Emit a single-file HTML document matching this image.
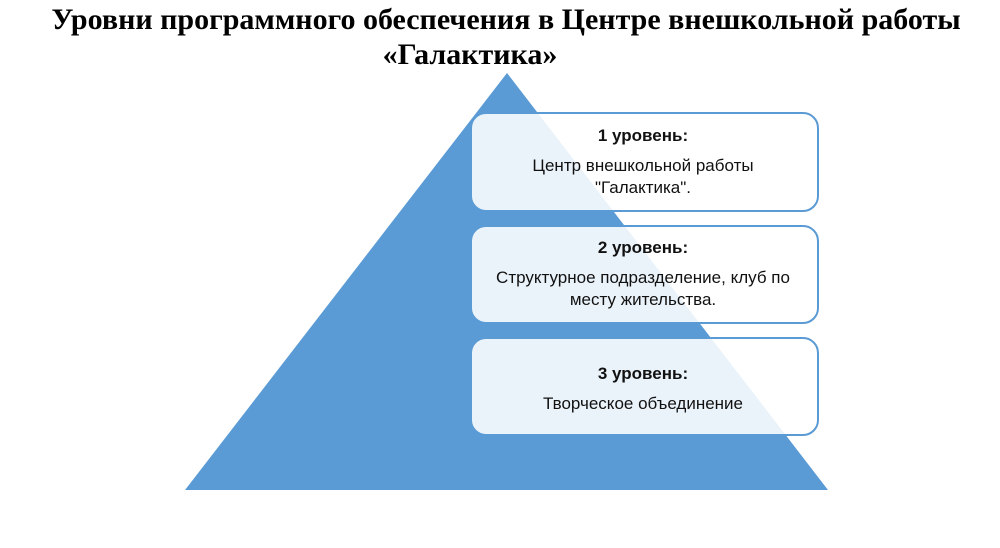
<!DOCTYPE html>
<html><head><meta charset="utf-8"><style>
html,body{margin:0;padding:0;background:#fff;}
body{width:1000px;height:548px;overflow:hidden;position:relative;}
.t{position:absolute;left:0;width:1012px;text-align:center;font-family:"Liberation Serif",serif;font-weight:bold;font-size:30px;color:#000;line-height:34px;}
</style></head><body>
<div class="t" style="top:3px;">Уровни программного обеспечения в Центре внешкольной работы</div>
<div class="t" style="top:38px;left:-36px;">«Галактика»</div>
<svg width="1000" height="548" style="position:absolute;left:0;top:0">
<polygon points="507,73 828,490 185,490" fill="#5b9bd5"/>
<g font-family="Liberation Sans, DejaVu Sans, sans-serif" font-size="17" fill="#111" text-anchor="middle">
<rect x="471" y="113" width="347" height="98" rx="15" fill="#fff" fill-opacity="0.88" stroke="#5b9bd5" stroke-width="2"/>
<text x="643" y="141" font-weight="bold">1 уровень:</text>
<text x="643" y="171">Центр внешкольной работы</text>
<text x="643" y="193">"Галактика".</text>
<rect x="471" y="226" width="347" height="97" rx="15" fill="#fff" fill-opacity="0.88" stroke="#5b9bd5" stroke-width="2"/>
<text x="643" y="253" font-weight="bold">2 уровень:</text>
<text x="643" y="283">Структурное подразделение, клуб по</text>
<text x="643" y="305">месту жительства.</text>
<rect x="471" y="338" width="347" height="97" rx="15" fill="#fff" fill-opacity="0.88" stroke="#5b9bd5" stroke-width="2"/>
<text x="643" y="379" font-weight="bold">3 уровень:</text>
<text x="643" y="409">Творческое объединение</text>
</g>
</svg>
</body></html>
